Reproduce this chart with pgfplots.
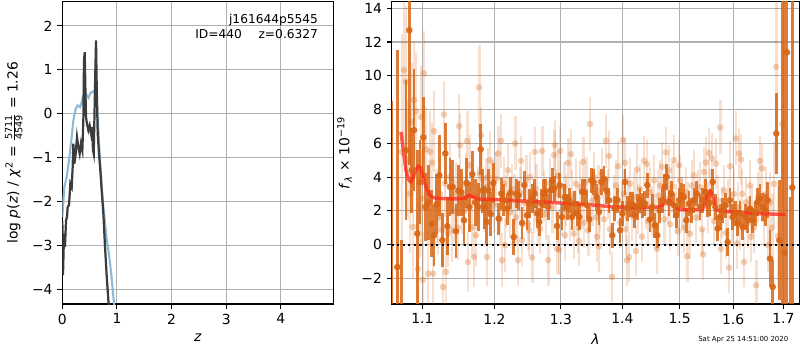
\documentclass[border=0pt]{standalone}
\usepackage{pgfplots}
\pgfplotsset{compat=1.18}
\usepackage{fontspec}
\setmainfont{DejaVu Sans}
\definecolor{gridc}{RGB}{176,176,176}
\definecolor{pzblue}{RGB}{140,185,216}
\definecolor{pzdark}{RGB}{60,60,60}
\definecolor{dorange}{RGB}{216,102,22}
\definecolor{modelred}{RGB}{255,40,25}
\pgfplotstableread{
1.0602 -6 14.5
1.06736 -1.33 12.85
1.07303 -5 5.26
1.07861 5.59 4.15
1.08291 12.7 8
1.08604 4.4 2.5
1.08907 6.78 3.6
1.09340 0.65 4.95
1.09695 3.71 2.5
1.10134 6.35 2.4
1.10454 2.23 2.0
1.10800 2.5 2.2
1.11255 1.24 2.0
1.11564 0.55 1.8
1.11928 2.4 1.8
1.12278 4.1 2.4
1.12685 0.26 1.6
1.13094 5.4 1.8
1.13367 1.09 1.7
1.13735 3.42 1.7
1.14108 3.42 1.6
1.14563 0.79 1.6
1.14880 3.2 1.5
1.15296 3.1 1.4
1.15673 1.44 1.5
1.16050 3.65 1.5
1.16413 2.23 1.5
1.16836 4.17 1.4
1.17218 2.5 1.4
1.17684 2.23 1.4
1.18024 5.65 1.5
1.18253 3.2 1.3
1.18496 2.2 1.3
1.18882 1.34 1.3
1.19111 3.2 1.3
1.19455 1.8 1.3
1.19832 3.65 1.2
1.20614 1.54 0.95
1.20992 3.02 0.95
1.21344 2.63 0.95
1.21828 2.13 0.95
1.22311 3.06 0.95
1.22816 0.45 1.05
1.23157 3.02 0.85
1.23557 2.92 0.85
1.2405 1.28 0.95
1.24395 3.52 0.85
1.2480 1.74 0.85
1.25145 2.43 0.85
1.25554 2.73 0.85
1.25964 3.02 0.85
1.26314 1.84 0.85
1.26664 1.34 0.85
1.2697 2.43 0.85
1.27339 3.02 0.85
1.27585 3.12 0.75
1.28 2.23 0.75
1.28354 3.22 0.75
1.28618 3.81 0.75
1.28976 3.32 0.75
1.29396 1.10 0.85
1.29816 3.52 0.75
1.30178 1.64 0.75
1.30603 2.82 0.75
1.30966 2.23 0.75
1.31328 2.63 0.75
1.31757 1.64 0.75
1.32187 2.43 0.75
1.32554 1.84 0.75
1.32920 1.64 0.75
1.33355 3.12 0.75
1.33791 3.12 0.75
1.34162 2.33 0.75
1.34533 1.50 0.75
1.34858 3.81 0.75
1.35250 3.71 0.75
1.35740 2.82 0.75
1.36116 1.93 0.75
1.36494 3.71 0.75
1.3694 3.91 0.75
1.37387 3.18 0.75
1.37767 2.63 0.75
1.38317 0.55 0.75
1.38718 2.13 0.75
1.39153 2.63 0.75
1.39605 0.85 0.75
1.39994 1.84 0.75
1.40452 3.71 0.75
1.40841 2.13 0.75
1.41298 2.39 0.75
1.41692 2.39 0.75
1.42103 1.74 0.75
1.42549 2.23 0.75
1.43011 2.63 0.75
1.43410 2.33 0.75
1.43826 2.43 0.75
1.44278 3.52 0.75
1.44746 1.48 0.75
1.45150 2.23 0.75
1.45571 1.14 0.75
1.46027 0.55 0.75
1.46448 2.03 0.75
1.46910 2.63 0.75
1.47336 3.42 0.75
1.47692 4.01 0.75
1.48100 2.47 0.75
1.48512 3.02 0.75
1.48998 2.33 0.75
1.49411 1.74 0.75
1.49897 2.63 0.75
1.50314 2.92 0.75
1.50805 2.82 0.75
1.51224 1.44 0.75
1.51715 2.43 0.75
1.52136 2.03 0.75
1.52634 2.63 0.75
1.53131 3.02 0.75
1.53739 2.23 0.75
1.54242 2.63 0.75
1.54727 3.12 0.75
1.55174 2.39 0.75
1.55603 2.47 0.75
1.56113 3.71 0.75
1.56604 2.23 0.75
1.57057 0.95 0.75
1.57491 1.64 0.75
1.58007 2.03 0.75
1.58503 2.33 0.75
1.58962 0.15 0.85
1.59401 2.63 0.75
1.59923 1.64 0.75
1.60425 1.84 0.75
1.60889 1.28 0.75
1.61334 1.84 0.75
1.61862 1.04 0.75
1.62371 1.64 0.75
1.62841 1.44 0.75
1.63291 2.13 0.75
1.63826 1.44 0.75
1.64340 1.84 0.75
1.64816 2.53 0.85
1.65271 2.73 0.85
1.65812 2.23 0.85
1.66334 2.03 0.95
1.66815 2.63 1.05
1.67276 -0.83 1.7
1.67824 -2.51 1.6
1.68554 6.58 2.4
1.69162 0.26 3.55
1.69715 -8 25
1.70187 -0.47 20
1.70742 11.39 20
1.71358 -5 7.8
1.71836 3.38 20
}\darkpts
\pgfplotstableread{
1.07342 5.5 7
1.07602 10.33 4.5
1.07861 9.65 4.5
1.08121 5.0 3.5
1.08381 3.02 3.5
1.08644 7.27 3.5
1.08776 1.04 3
1.08907 8.56 3.5
1.09169 7.9 3.5
1.09432 -1.45 3
1.09695 2.23 3
1.09828 7.57 3
1.09961 2.73 2.8
1.10094 -2.08 2.8
1.10227 10.14 2.5
1.10494 5.65 2.5
1.1076 -1.72 2.5
1.11026 5.49 2.4
1.11295 4.86 2.4
1.1143 -1.72 2.4
1.11564 6.72 2.4
1.11834 2.3 2.2
1.12103 1.6 2.2
1.12372 3.02 2.2
1.12645 0.85 2.0
1.12781 -2.51 2.0
1.12917 7.71 2.0
1.13053 3.62 2.0
1.1319 -1.62 2.0
1.13462 0.65 2.0
1.13735 4.01 2.0
1.14011 0.85 1.9
1.14287 2.0 1.9
1.14563 3.0 1.9
1.14839 1.0 1.9
1.14977 7.02 1.9
1.15115 5.89 1.9
1.15394 2.4 1.8
1.15673 2.0 1.8
1.15953 3.6 1.8
1.16093 6.13 1.8
1.16232 -1.03 1.8
1.16511 4.70 1.8
1.16794 1.04 1.8
1.17076 -0.74 1.8
1.17359 0.55 1.8
1.17641 2.9 1.7
1.17782 9.31 2.5
1.17924 4.2 1.7
1.18067 6.48 1.7
1.1821 3.9 1.7
1.18496 2.43 1.7
1.18782 3.4 1.7
1.18925 -0.74 1.7
1.19068 4.0 1.7
1.19354 5.0 1.7
1.19644 3.42 1.6
1.19933 2.3 1.6
1.20223 3.9 1.6
1.20512 5.4 1.6
1.20802 1.5 1.6
1.20949 6.15 1.6
1.21095 -0.93 1.6
1.21388 3.6 1.6
1.21535 -0.04 1.6
1.21681 2.6 1.6
1.21974 4.4 1.6
1.22267 1.9 1.5
1.22564 3.3 1.5
1.2286 2.7 1.5
1.23009 5.99 1.6
1.23157 1.6 1.5
1.23453 -0.93 1.5
1.2375 3.1 1.5
1.239 4.96 1.5
1.2405 0.26 1.5
1.2435 2.5 1.5
1.2465 3.8 1.5
1.2495 1.2 1.5
1.251 0.85 1.5
1.2525 4.0 1.5
1.25554 -0.77 1.5
1.25858 2.2 1.5
1.2601 5.49 1.5
1.26162 3.3 1.5
1.26466 1.5 1.5
1.2677 0.95 1.5
1.27077 5.55 1.5
1.27385 2.9 1.5
1.27692 1.8 1.5
1.28 -0.93 1.5
1.28307 3.6 1.5
1.28618 2.2 1.5
1.2893 5.3 1.5
1.29085 5.89 1.5
1.29241 3.0 1.5
1.29397 -0.25 1.5
1.29552 4.1 1.5
1.29708 -0.3 1.5
1.29863 5.55 1.5
1.30178 2.0 1.5
1.30493 3.4 1.5
1.30651 0.55 1.5
1.30808 2.6 1.5
1.31123 4.84 1.5
1.31438 1.7 1.5
1.31597 5.36 1.5
1.31757 2.9 1.5
1.32076 0.65 1.5
1.32394 3.6 1.5
1.32713 1.0 1.5
1.32873 0.21 1.5
1.33032 3.4 1.5
1.33355 2.4 1.5
1.33517 4.9 1.5
1.33678 1.3 1.5
1.34 3.7 1.5
1.34323 0.85 1.5
1.34646 7.14 1.6
1.34973 2.6 1.5
1.35299 4.0 1.5
1.35626 1.6 1.5
1.35789 0.46 1.5
1.35952 3.2 1.5
1.36116 -0.1 1.5
1.36279 2.2 1.5
1.3661 4.2 1.5
1.3694 1.5 1.5
1.37271 6.15 1.6
1.37601 3.0 1.5
1.37767 5.24 1.5
1.37932 0.9 1.5
1.38267 -1.92 1.5
1.38601 2.6 1.5
1.38936 3.5 1.5
1.3927 4.64 1.5
1.39605 1.3 1.5
1.39944 2.2 1.5
1.40113 6.19 1.5
1.40282 3.0 1.5
1.40452 4.84 1.5
1.40621 0.9 1.5
1.4079 -0.93 1.5
1.40959 2.5 1.5
1.41128 -0.74 1.5
1.41298 3.6 1.5
1.41641 1.7 1.5
1.41983 2.8 1.5
1.42326 -0.38 1.5
1.42497 4.45 1.5
1.42668 2.1 1.5
1.43011 3.3 1.5
1.43358 0.47 1.5
1.43705 4.96 1.5
1.44052 2.4 1.5
1.44226 4.76 1.5
1.44399 1.4 1.5
1.44746 3.1 1.5
1.45097 2.0 1.5
1.45448 3.8 1.5
1.45799 1.2 1.5
1.45975 -0.25 1.5
1.4615 2.9 1.5
1.46501 3.5 1.5
1.46856 4.6 1.5
1.47212 1.5 1.5
1.47567 5.46 1.5
1.47923 2.7 1.5
1.481 4.4 1.5
1.48278 1.2 1.5
1.48638 3.4 1.5
1.48998 5.0 1.5
1.49357 2.1 1.5
1.49717 0.8 1.5
1.49897 4.7 1.5
1.50077 3.8 1.5
1.50441 2.5 1.5
1.50805 1.0 1.5
1.51169 3.1 1.5
1.51351 -0.69 1.5
1.51533 2.2 1.5
1.51897 0.65 1.5
1.52265 3.5 1.5
1.52634 4.1 1.5
1.53002 1.6 1.5
1.53371 2.9 1.5
1.53739 3.4 1.5
1.54112 0.9 1.5
1.54298 -0.58 1.5
1.54485 4.3 1.5
1.54857 4.86 1.5
1.5523 2.2 1.5
1.55417 5.43 1.5
1.55603 3.0 1.5
1.55981 5.1 1.5
1.56358 1.4 1.5
1.56736 4.8 1.5
1.57113 2.6 1.5
1.57491 6.94 1.6
1.57682 -0.25 1.5
1.57873 1.9 1.5
1.58255 3.2 1.5
1.58637 0.7 1.5
1.59019 2.4 1.5
1.5921 -1.37 1.5
1.59401 4.64 1.5
1.59788 1.6 1.5
1.60174 3.0 1.5
1.60561 6.29 1.6
1.60754 0.06 1.5
1.60947 2.2 1.5
1.6114 5.4 1.5
1.61334 1.2 1.5
1.6153 5.04 1.5
1.61725 3.0 1.5
1.62117 -1.03 1.5
1.62508 2.5 1.5
1.629 1.3 1.5
1.63291 3.5 1.5
1.63489 0.46 1.5
1.63687 2.0 1.5
1.64083 1.0 1.5
1.64479 -2.41 1.5
1.64875 2.8 1.5
1.65271 4.96 1.5
1.65672 4.51 1.5
1.66073 1.5 1.6
1.66474 3.0 1.6
1.66875 -0.04 1.6
1.67276 2.5 1.8
1.67682 1.0 2.0
1.68087 3.6 2.5
1.68493 10.53 5
1.68898 0.5 3
1.6986 7.14 5
}\lightpts
\begin{document}
\begin{tikzpicture}
\path[use as bounding box] (0,0) rectangle (576pt,252pt);
\pgfplotsset{every axis/.append style={
  scale only axis, anchor=south west,
  tick label style={font=\fontsize{10}{12}\selectfont},
  label style={font=\fontsize{10}{12}\selectfont},
  grid=major, major grid style={gridc, line width=0.8pt},
  axis line style={line width=0.8pt},
  every tick/.style={black, line width=0.8pt},
  tick align=outside, major tick length=3.5pt,
  xtick pos=left, ytick pos=left,
}}
\begin{axis}[
  at={(44.86pt,33.12pt)}, width=195.12pt, height=217.66pt,
  xmin=0, xmax=4.96, ymin=-4.33, ymax=2.55,
  xtick={0,1,2,3,4}, xticklabels={0,1,2,3,4},
  ytick={-4,-3,-2,-1,0,1,2}, yticklabels={−4,−3,−2,−1,0,1,2},
  xlabel={\textit{z}},
  ylabel={log \textit{p}(\textit{z}) / \textit{χ}\textsuperscript{2} = $\frac{\mbox{\fontsize{7}{8}\selectfont 5711}}{\mbox{\fontsize{7}{8}\selectfont 4549}}$ = 1.26},
]
\addplot[pzblue, line width=1.5pt] coordinates {
(0.0,-2.35) (0.037,-1.67) (0.08,-1.44) (0.123,-1.06) (0.172,-0.53) (0.202,-0.15)
(0.245,0.11) (0.281,0.19) (0.324,0.15) (0.355,0.26) (0.385,0.42) (0.416,0.47)
(0.446,0.42) (0.477,0.36) (0.507,0.45) (0.538,0.49) (0.568,0.51) (0.599,0.45)
(0.63,0.23) (0.66,-0.38) (0.69,-1.06) (0.721,-1.67) (0.751,-2.12) (0.782,-2.5)
(0.813,-2.85) (0.843,-3.1) (0.874,-3.4) (0.904,-3.75) (0.93,-4.1) (0.953,-4.4) (0.97,-4.8)};
\addplot[pzdark, line width=1.6pt] coordinates {
(0.0005,-2.43) (0.013,-3.67) (0.031,-2.73) (0.049,-3.03) (0.068,-2.43) (0.086,-2.35)
(0.098,-2.12) (0.123,-2.08) (0.147,-1.59) (0.172,-1.67) (0.19,-1.21) (0.202,-0.68)
(0.22,-1.14) (0.245,-0.91) (0.269,-0.53) (0.294,-0.76) (0.318,-0.91) (0.342,-0.68)
(0.367,-0.83) (0.385,-0.15) (0.397,1.21) (0.41,1.40) (0.422,0.61) (0.434,-0.08)
(0.452,-0.23) (0.477,-0.38) (0.501,-0.27) (0.526,-0.45) (0.544,-0.3) (0.562,-0.83)
(0.575,-0.91) (0.587,-0.15) (0.605,0.99) (0.617,1.67) (0.63,0.61) (0.648,-0.45)
(0.672,-0.91) (0.696,-1.29) (0.721,-1.74) (0.751,-2.27) (0.782,-3.03) (0.813,-3.71)
(0.843,-4.24) (0.874,-4.7)};
\node[anchor=east, inner sep=0pt, font=\fontsize{8.8}{10}\selectfont] at (rel axis cs:0.9446,0.9395) {j161644p5545};
\node[anchor=east, inner sep=0pt, font=\fontsize{8.8}{10}\selectfont] at (rel axis cs:0.9446,0.893) {ID=440\hspace{12pt}z=0.6327};
\end{axis}
\begin{axis}[
  at={(282.02pt,33.12pt)}, width=293.47pt, height=217.66pt,
  xmode=log, xmin=1.06017, xmax=1.7329, ymin=-3.52, ymax=14.39,
  xtick={1.1,1.2,1.3,1.4,1.5,1.6,1.7}, xticklabels={1.1,1.2,1.3,1.4,1.5,1.6,1.7},
  minor xtick={},
  ytick={-2,0,2,4,6,8,10,12,14}, yticklabels={−2,0,2,4,6,8,10,12,14},
  xlabel={\textit{λ}},
  ylabel={\textit{f}\textsubscript{\textit{λ}} × 10\textsuperscript{−19}},
]
\addplot[only marks, mark=*, mark size=2.4pt, color=dorange,
  mark options={draw=dorange, fill=dorange, draw opacity=0, fill opacity=0.3},
  error bars/.cd, y dir=both, y explicit, error mark=none,
  error bar style={line width=2.1pt, color=dorange, draw opacity=0.2}]
  table[header=false, x index=0, y index=1, y error index=2] {\lightpts};
\addplot[only marks, mark=*, mark size=2.4pt, color=dorange,
  mark options={draw=dorange, fill=dorange, draw opacity=0, fill opacity=0.9},
  error bars/.cd, y dir=both, y explicit, error mark=none,
  error bar style={line width=2.1pt, color=dorange, draw opacity=0.85}]
  table[header=false, x index=0, y index=1, y error index=2] {\darkpts};
\addplot[black, line width=1.5pt, dash pattern=on 1.5pt off 2.5pt] coordinates {(1.06017,0) (1.7329,0)};
\addplot[modelred, line width=2.5pt, opacity=0.75, smooth, tension=0.4] coordinates {
(1.07212,6.68) (1.07514,5.59) (1.07861,4.4) (1.0816,3.91) (1.08473,3.71) (1.08736,3.91)
(1.09038,4.31) (1.09472,4.64) (1.09788,4.51) (1.10134,3.91) (1.10494,3.42) (1.10933,2.97)
(1.1147,2.79) (1.12372,2.73) (1.1466,2.71) (1.15813,2.75) (1.16413,2.92) (1.16978,2.8)
(1.17924,2.69) (1.19832,2.67) (1.24545,2.57) (1.29661,2.47) (1.35626,2.33) (1.38601,2.23)
(1.43705,2.2) (1.46326,2.23) (1.47212,2.43) (1.481,2.63) (1.48998,2.27) (1.50204,2.07)
(1.53371,2.07) (1.54242,2.13) (1.54988,2.82) (1.55603,3.18) (1.56113,2.82) (1.56736,2.13)
(1.57682,1.99) (1.62508,1.87) (1.70393,1.78)};
\end{axis}
\node[anchor=west, inner sep=0pt, font=\fontsize{5}{6}\selectfont] at (502.6pt,7.7pt) {Sat Apr 25 14:51:00 2020};
\end{tikzpicture}
\end{document}
